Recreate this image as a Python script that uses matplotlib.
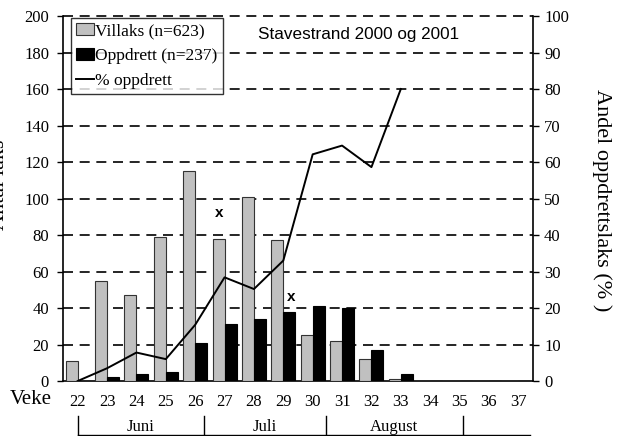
import numpy as np
import matplotlib
matplotlib.use('Agg')
import matplotlib.pyplot as plt
from matplotlib.transforms import blended_transform_factory

weeks = ['22', '23', '24', '25', '26', '27', '28', '29', '30', '31', '32', '33', '34', '35', '36', '37']
villaks = [11, 55, 47, 79, 115, 78, 101, 77, 25, 22, 12, 1, 0, 0, 0, 0]
oppdrett = [0, 2, 4, 5, 21, 31, 34, 38, 41, 40, 17, 4, 0, 0, 0, 0]
pct_oppdrett = [0, 3.5, 7.8, 6.0, 15.4, 28.4, 25.2, 33.0, 62.1, 64.5, 58.6, 80.0]
months = ['Juni', 'Juli', 'August']
month_edges = [0.0, 4.3, 8.45, 13.1]
month_line_end = 15.4
x_marks = [(4.8, 92), (7.25, 46)]

serif = ['Liberation Serif', 'DejaVu Serif']
sans = ['Liberation Sans', 'DejaVu Sans']
plt.rcParams['font.family'] = serif

fig = plt.figure(figsize=(6.25, 4.36), dpi=100)
ax = fig.add_axes([0.1008, 0.1261, 0.7520, 0.8372])

x = np.arange(len(weeks))
w = 0.41
ax.bar(x - w / 2, villaks, w, color='#c0c0c0', edgecolor='#333333', linewidth=0.8,
       label='Villaks (n=623)', zorder=3)
ax.bar(x + w / 2, oppdrett, w, color='black', edgecolor='black', linewidth=0.8,
       label='Oppdrett (n=237)', zorder=3)

# dashed grid
for yv in range(20, 201, 20):
    ax.axhline(yv, color='black', lw=1.2, dashes=(6, 4), zorder=1, clip_on=False)

ax.set_xlim(-0.5, len(weeks) - 0.5)
ax.set_ylim(0, 200)
ax.set_yticks(range(0, 201, 20))
ax.set_xticks(x)
ax.set_xticklabels(weeks)
ax.tick_params(axis='x', length=0, pad=9, labelsize=12)
ax.tick_params(axis='y', length=4, width=1, direction='out', pad=6, labelsize=12)
for s in ['top', 'right']:
    ax.spines[s].set_visible(False)
for s in ['left', 'bottom']:
    ax.spines[s].set_linewidth(1.2)

ax2 = ax.twinx()
ax2.plot(x[:len(pct_oppdrett)], pct_oppdrett, color='black', lw=1.4,
         label='% oppdrett', zorder=4)
ax2.set_ylim(0, 100)
ax2.set_yticks(range(0, 101, 10))
ax2.tick_params(axis='y', length=4, width=1, direction='out', pad=4, labelsize=12)
for s in ['top', 'left', 'bottom']:
    ax2.spines[s].set_visible(False)
ax2.spines['right'].set_linewidth(1.2)

for mx, my in x_marks:
    ax.text(mx, my, 'x', family=sans, fontweight='bold', fontsize=11,
            ha='center', va='center', zorder=5)

ax.text(0.629, 0.948, 'Stavestrand 2000 og 2001', transform=ax.transAxes,
        family=sans, fontsize=12.3, ha='center', va='center')

h1, l1 = ax.get_legend_handles_labels()
h2, l2 = ax2.get_legend_handles_labels()
leg = ax2.legend(h1 + h2, l1 + l2, loc='upper left', bbox_to_anchor=(0.017, 0.995),
                 fontsize=12.5, frameon=True, fancybox=False, edgecolor='black',
                 handlelength=1.0, handleheight=0.7, handletextpad=0.1,
                 borderpad=0.3, labelspacing=0.5, borderaxespad=0)
leg.get_frame().set_linewidth(1.0)

# week / month annotations below axis
fig.text(0.0496, 0.0826, 'Veke', fontsize=15, ha='center', va='center')
tr = blended_transform_factory(ax.transData, ax.transAxes)
ax.plot([month_edges[0], month_line_end], [-0.148, -0.148], color='black', lw=1,
        transform=tr, clip_on=False)
for e in month_edges:
    ax.plot([e, e], [-0.148, -0.096], color='black', lw=1, transform=tr, clip_on=False)
for i, m in enumerate(months):
    ax.text((month_edges[i] + month_edges[i + 1]) / 2, -0.126, m, transform=tr,
            fontsize=12, ha='center', va='center')

fig.text(0.0, 0.576, 'Antal laks', rotation=90, fontsize=16, ha='center', va='center')
fig.text(0.963, 0.541, 'Andel oppdrettslaks (% )', rotation=-90, fontsize=16,
         ha='center', va='center')

fig.savefig('out.png', dpi=100)
